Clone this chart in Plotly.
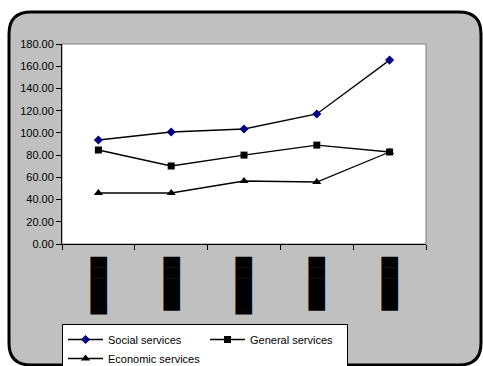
import plotly.graph_objects as go

# Category labels (drawn as solid blocks) and series values
categories = ["A", "B", "C", "D", "E"]
label_blocks = ["█████▍", "█████", "█████▍", "█████", "█████"]
social_services = [93.6, 100.8, 103.5, 117.0, 165.5]
general_services = [84.6, 70.2, 80.0, 89.0, 82.8]
economic_services = [45.9, 45.9, 56.7, 55.8, 82.8]

W, H = 483, 366
L, R, T, B = 62, 57, 44, 122
pw, ph = W - L - R, H - T - B

def px_x(x):
    return (x - L) / pw

def px_y(y):
    return (H - B - y) / ph

fig = go.Figure()

series = [
    ("Social services", social_services, "diamond", "#000080", 7),
    ("General services", general_services, "square", "#000000", 7),
    ("Economic services", economic_services, "triangle-up", "#000000", 8),
]
for name, vals, sym, col, size in series:
    fig.add_trace(go.Scatter(
        x=categories, y=vals, name=name, mode="lines+markers",
        line=dict(color="#000000", width=1.3),
        marker=dict(symbol=sym, color=col, size=size, line=dict(width=0)),
    ))

# Rounded grey chart frame
x0, x1 = px_x(9), px_x(481)
y0, y1 = px_y(365), px_y(12)
rx, ry = 22 / pw, 22 / ph
frame = (
    f"M {x0 + rx},{y1} L {x1 - rx},{y1} Q {x1},{y1} {x1},{y1 - ry} "
    f"L {x1},{y0 + ry} Q {x1},{y0} {x1 - rx},{y0} "
    f"L {x0 + rx},{y0} Q {x0},{y0} {x0},{y0 + ry} "
    f"L {x0},{y1 - ry} Q {x0},{y1} {x0 + rx},{y1} Z"
)
fig.add_shape(type="path", path=frame, xref="paper", yref="paper",
              fillcolor="#C0C0C0", line=dict(color="#000000", width=3),
              layer="below")
# White plot area with grey border
fig.add_shape(type="rect", xref="paper", yref="paper", x0=0, x1=1, y0=0, y1=1,
              fillcolor="#FFFFFF", line=dict(color="#808080", width=1),
              layer="below")

font = dict(family="Liberation Sans, Arial, sans-serif", size=11, color="#000000")

fig.update_layout(
    width=W, height=H,
    margin=dict(l=L, r=R, t=T, b=B),
    paper_bgcolor="#FFFFFF", plot_bgcolor="#FFFFFF",
    font=font,
    showlegend=True,
    legend=dict(
        orientation="h", x=L / W, xref="container", y=1 - 324 / H, yref="container",
        xanchor="left", yanchor="top",
        bgcolor="#FFFFFF", bordercolor="#000000", borderwidth=1,
        entrywidth=92, entrywidthmode="pixels", traceorder="normal",
        tracegroupgap=0, itemwidth=35,
        font=font,
    ),
    xaxis=dict(
        type="category", tickson="boundaries", ticks="outside", ticklen=5,
        tickcolor="#000000", showline=True, linecolor="#000000", linewidth=1,
        showgrid=False, zeroline=False, tickangle=90, automargin=False,
        ticklabelstandoff=9,
        tickvals=categories, ticktext=label_blocks,
        tickfont=dict(family="DejaVu Sans", size=14, color="#000000"),
        range=[-0.5, 4.5],
    ),
    yaxis=dict(
        range=[0, 180], dtick=20, tickformat=".2f", ticks="outside", ticklen=5,
        tickcolor="#000000", showline=True, linecolor="#000000", linewidth=1,
        showgrid=False, zeroline=False, tickfont=font, automargin=False,
    ),
)

fig.write_html("out.html")
